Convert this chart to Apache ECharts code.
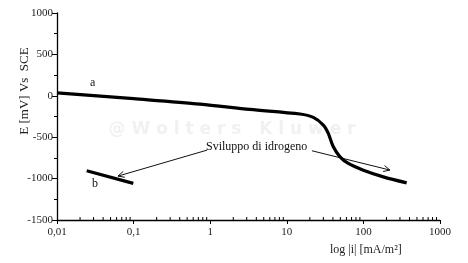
<!DOCTYPE html>
<html><head><meta charset="utf-8">
<script src="https://cdn.jsdelivr.net/npm/echarts@6/dist/echarts.min.js"></script>
<style>html,body{margin:0;padding:0;background:#fff}#c{width:468px;height:263px}</style>
</head><body><div id="c"></div>
<script>
// Curve a (current density mA/m^2, potential mV)
const curveA_i = [0.01, 0.1, 0.74, 3.3, 14.9, 22.2, 30, 34.8, 40.5, 49.5, 63.6, 100, 182, 367];
const curveA_E = [36, -35, -100, -164, -220, -261, -354, -454, -616, -737, -817, -898, -979, -1051];
// Curve b
const curveB_i = [0.0244, 0.099];
const curveB_E = [-906, -1058];
// Arrows: [from i, from E, to i, to E]
const arrows = [
  [0.91, -656, 0.0625, -970],
  [21.3, -664, 222, -897]
];
// Minor ticks for log axis
const minorTicksX = [];
[0.01, 0.1, 1, 10, 100].forEach(d => { for (let k = 2; k <= 9; k++) minorTicksX.push(+(d * k).toPrecision(3)); });
const xTickLabels = {'0.01': '0,01', '0.1': '0,1', '1': '1', '10': '10', '100': '100', '1000': '1000'};
const yTicks = [-1500, -1000, -500, 0, 500, 1000];

const chart = echarts.init(document.getElementById('c'));
const font = 'Liberation Serif';
chart.setOption({
  animation: false,
  grid: {left: 57, right: 28, top: 13, bottom: 43, outerBoundsMode: 'none', containLabel: false},
  xAxis: {
    type: 'log', logBase: 10, min: 0.01, max: 1000,
    axisLine: {onZero: false, lineStyle: {color: '#000', width: 1.3}},
    axisTick: {show: true, length: 4, lineStyle: {color: '#000'}},
    splitLine: {show: false},
    axisLabel: {fontFamily: font, fontSize: 11, color: '#222', margin: 7,
      formatter: v => xTickLabels[String(+(+v).toPrecision(3))] || ''}
  },
  yAxis: {
    type: 'value', min: -1500, max: 1000, interval: 500,
    axisLine: {show: true, onZero: false, lineStyle: {color: '#000', width: 1.3}},
    axisTick: {show: true, length: 5, lineStyle: {color: '#000'}},
    minorTick: {show: true, splitNumber: 2, length: 3, lineStyle: {color: '#000'}},
    splitLine: {show: false},
    axisLabel: {fontFamily: font, fontSize: 11, color: '#222', margin: 4, formatter: v => String(v)}
  },
  series: [
    {type: 'line', data: curveA_i.map((v, k) => [v, curveA_E[k]]), smooth: 0.3, showSymbol: false,
      lineStyle: {color: '#000', width: 3.2}},
    {type: 'line', data: curveB_i.map((v, k) => [v, curveB_E[k]]), showSymbol: false,
      lineStyle: {color: '#000', width: 3.2}},
    {type: 'custom', data: minorTicksX.map(v => [v, -1500]), silent: true,
      renderItem: (params, api) => {
        const p = api.coord([api.value(0), api.value(1)]);
        return {type: 'line', shape: {x1: p[0], y1: p[1], x2: p[0], y2: p[1] - 3}, style: {stroke: '#000', lineWidth: 1}};
      }},
    {type: 'custom', data: arrows, silent: true,
      renderItem: (params, api) => {
        const p0 = api.coord([api.value(0), api.value(1)]);
        const p1 = api.coord([api.value(2), api.value(3)]);
        const ang = Math.atan2(p1[1] - p0[1], p1[0] - p0[0]);
        const L = 7, w = 0.45;
        const a1 = [p1[0] - L * Math.cos(ang - w), p1[1] - L * Math.sin(ang - w)];
        const a2 = [p1[0] - L * Math.cos(ang + w), p1[1] - L * Math.sin(ang + w)];
        const st = {stroke: '#111', lineWidth: 1, fill: null};
        return {type: 'group', children: [
          {type: 'line', shape: {x1: p0[0], y1: p0[1], x2: p1[0], y2: p1[1]}, style: st},
          {type: 'polyline', shape: {points: [a1, p1, a2]}, style: st}
        ]};
      }}
  ],
  graphic: [
    {type: 'text', x: 232, y: 130, z: -1, style: {text: '@ W o l t e r s   K l u w e r', align: 'center', verticalAlign: 'middle', fontFamily: 'DejaVu Sans', fontWeight: 'bold', fontSize: 17, fill: '#f1f1f1'}},
    {type: 'text', left: 90, top: 77, style: {text: 'a', fontFamily: font, fontSize: 12, fill: '#111'}},
    {type: 'text', left: 92, top: 178, style: {text: 'b', fontFamily: font, fontSize: 12, fill: '#111'}},
    {type: 'text', left: 206, top: 141, style: {text: 'Sviluppo di idrogeno', fontFamily: font, fontSize: 12, fill: '#111'}},
    {type: 'text', left: 330, top: 244, style: {text: 'log |i| [mA/m²]', fontFamily: font, fontSize: 12, fill: '#222'}},
    {type: 'text', x: 25, y: 91, rotation: Math.PI / 2, style: {text: 'E [mV] Vs  SCE', align: 'center', verticalAlign: 'middle', fontFamily: font, fontSize: 13, fill: '#222'}}
  ]
});
</script></body></html>
